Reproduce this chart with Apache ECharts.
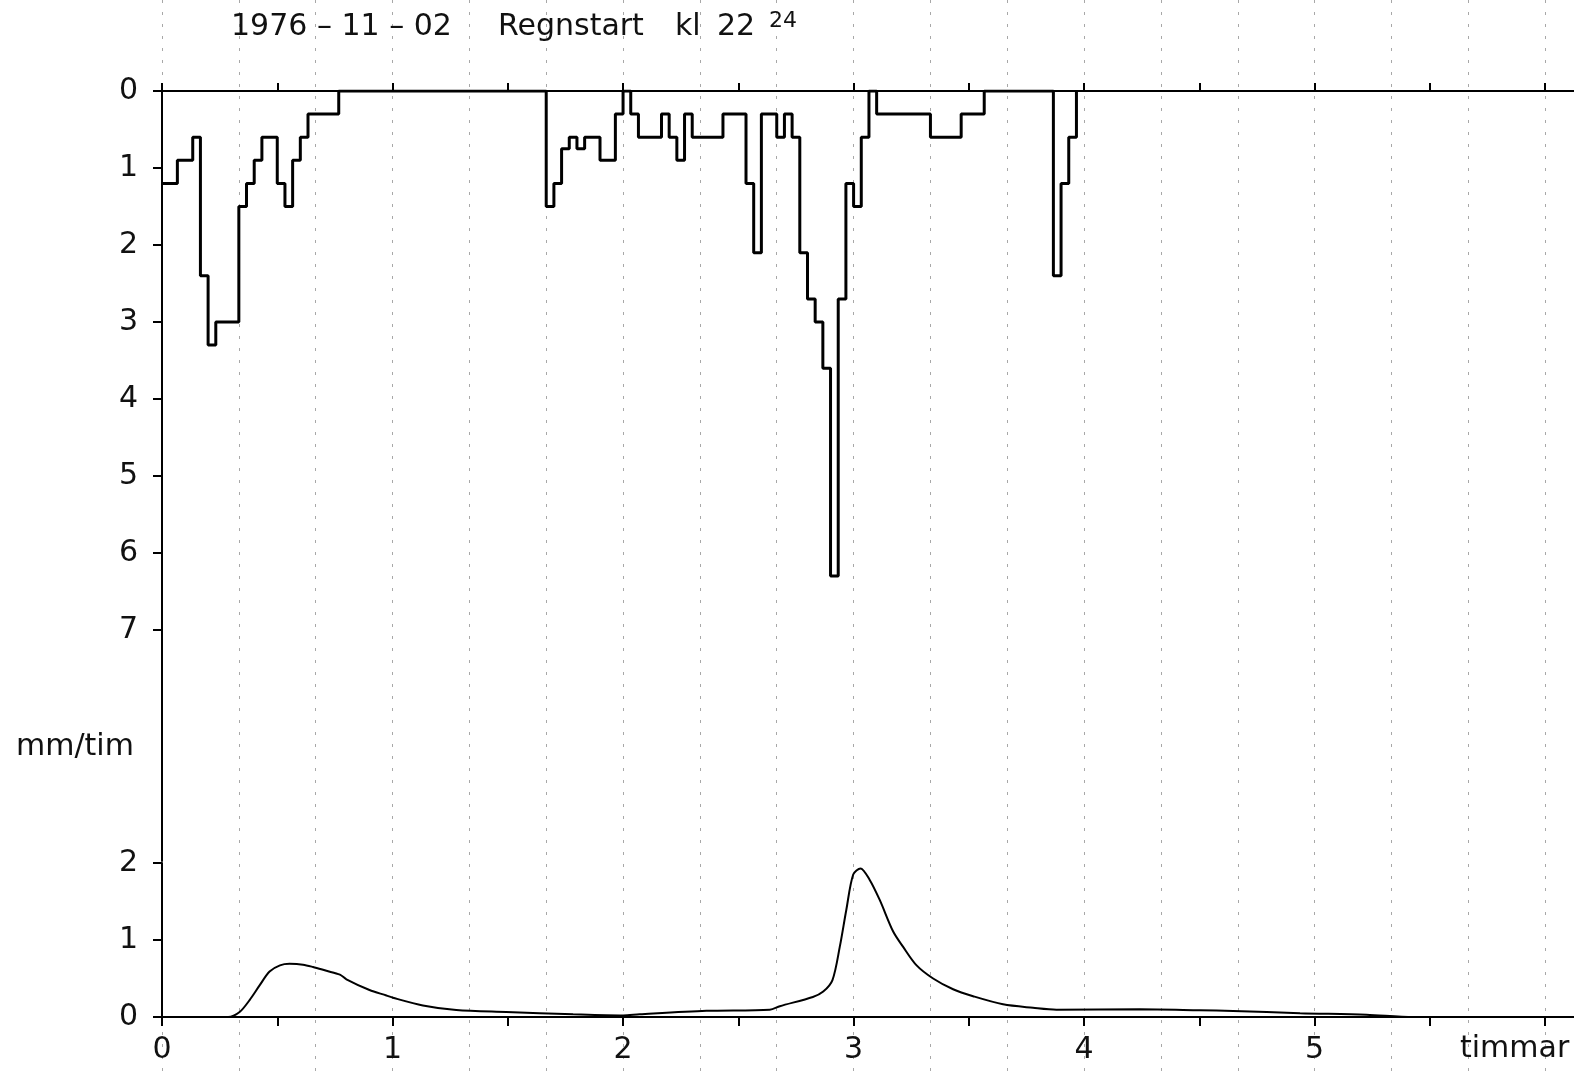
<!DOCTYPE html>
<html>
<head>
<meta charset="utf-8">
<title>Regn och avrinning 1976-11-02</title>
<script src="https://cdn.jsdelivr.net/npm/echarts@6/dist/echarts.min.js"></script>
<style>
  html, body { margin: 0; padding: 0; background: #fff; }
  #chart { width: 1574px; height: 1071px; }
</style>
</head>
<body>
<div id="chart"></div>
<script>
// Rain intensity (mm/tim) as steps: each value holds from its start minute to the next one.
const rainStartMin = [
  0, 4, 8, 10, 12, 14, 20, 22, 24, 26, 30, 32, 34, 36, 38, 46,
  100, 102, 104, 106, 108, 110, 114, 118, 120, 122, 124, 130, 132, 134, 136, 138,
  146, 152, 154, 156, 160, 162, 164, 166, 168, 170, 172, 174, 176, 178, 180, 182,
  184, 186, 200, 208, 214,
  232, 234, 236, 238
];
const rainRate = [
  1.2, 0.9, 0.6, 2.4, 3.3, 3.0, 1.5, 1.2, 0.9, 0.6, 1.2, 1.5, 0.9, 0.6, 0.3, 0,
  1.5, 1.2, 0.75, 0.6, 0.75, 0.6, 0.9, 0.3, 0, 0.3, 0.6, 0.3, 0.6, 0.9, 0.3, 0.6,
  0.3, 1.2, 2.1, 0.3, 0.6, 0.3, 0.6, 2.1, 2.7, 3.0, 3.6, 6.3, 2.7, 1.2, 1.5, 0.6,
  0, 0.3, 0.6, 0.3, 0,
  2.4, 1.2, 0.6, 0
];

// Runoff (mm/tim) sampled along the curve.
const flowMin = [
  0, 17.2, 20.2, 22.8, 25.4, 28, 30.7, 33.2, 36.7, 39.3, 42.8, 46.3, 48, 54, 58.4, 60.1,
  67.9, 76.6, 89.6, 107, 120, 124.3, 141.7, 158.2, 160.8, 169.4, 172.1, 174.5, 176.4, 178.1,
  179.9, 181.8, 184.2, 186.8, 190.3, 192.9, 196.4, 200.7, 205.9, 211.1, 218.9, 226.7, 232.8,
  254.5, 270.1, 278.8, 296.2, 313.5, 325.6, 367.5
];
const flowRate = [
  0, 0, 0.065, 0.22, 0.41, 0.59, 0.67, 0.69, 0.68, 0.65, 0.60, 0.55, 0.49, 0.35, 0.28, 0.25,
  0.15, 0.09, 0.065, 0.035, 0.02, 0.035, 0.08, 0.095, 0.14, 0.26, 0.33, 0.48, 0.91, 1.39,
  1.85, 1.93, 1.78, 1.52, 1.11, 0.91, 0.67, 0.50, 0.36, 0.27, 0.165, 0.12, 0.095,
  0.10, 0.087, 0.078, 0.05, 0.03, 0, 0
];

// Tick labels
const rainTicks = [0, 1, 2, 3, 4, 5, 6, 7];
const flowTicks = [0, 1, 2];
const hourTicks = [0, 1, 2, 3, 4, 5];
const halfHourTicksMin = [0, 30, 60, 90, 120, 150, 180, 210, 240, 270, 300, 330, 360];

const FONT = '"DejaVu Sans", sans-serif';
const INK = '#111';
const X_MAX_MIN = 367.5;   // right end of the time axis, minutes

const rainData = rainStartMin.map((t, i) => [t, rainRate[i]]);
const flowData = flowMin.map((t, i) => [t, flowRate[i]]);

const txt = (size) => ({ fontFamily: FONT, fontSize: size, fontWeight: 'normal', color: INK });

const chart = echarts.init(document.getElementById('chart'), null, { renderer: 'canvas' });

chart.setOption({
  animation: false,
  backgroundColor: '#fff',
  title: [
    { text: '1976 – 11 – 02', left: 231, top: 12, padding: 0, textStyle: txt(30) },
    { text: 'Regnstart', left: 498, top: 12, padding: 0, textStyle: txt(30) },
    { text: 'kl', left: 675, top: 12, padding: 0, textStyle: txt(30) },
    { text: '22', left: 717, top: 12, padding: 0, textStyle: txt(30) },
    { text: '24', left: 769, top: 10, padding: 0, textStyle: txt(22) },
    { text: 'mm/tim', left: 16, top: 732, padding: 0, textStyle: txt(30) },
    { text: 'timmar', left: 1460, top: 1034, padding: 0, textStyle: txt(30) }
  ],
  grid: [
    // rain panel (inverted), reaches down to the runoff panel
    { left: 162, right: 0, top: 91, height: 770, containLabel: false },
    // runoff panel
    { left: 162, right: 0, top: 863, height: 154, containLabel: false },
    // full-height panel carrying the 20-minute guide lines
    { left: 162, right: 0, top: 0, bottom: 0, containLabel: false }
  ],
  xAxis: [
    {
      gridIndex: 0, type: 'value', position: 'top', min: 0, max: X_MAX_MIN, interval: 30,
      axisLine: { show: true, onZero: false, lineStyle: { color: '#000', width: 2 } },
      axisTick: { show: true, inside: false, length: 8, customValues: halfHourTicksMin,
                  lineStyle: { color: '#000', width: 2 } },
      axisLabel: { show: false },
      splitLine: { show: false }
    },
    {
      gridIndex: 1, type: 'value', position: 'bottom', min: 0, max: X_MAX_MIN, interval: 30,
      axisLine: { show: true, onZero: false, lineStyle: { color: '#000', width: 2 } },
      axisTick: { show: true, inside: false, length: 9, customValues: halfHourTicksMin,
                  lineStyle: { color: '#000', width: 2 } },
      axisLabel: {
        show: true, margin: 18,
        customValues: hourTicks.map(h => h * 60),
        formatter: v => String(Math.round(v / 60)),
        ...txt(30)
      },
      splitLine: { show: false }
    },
    {
      gridIndex: 2, type: 'value', min: 0, max: X_MAX_MIN, interval: 20,
      axisLine: { show: false }, axisTick: { show: false }, axisLabel: { show: false },
      splitLine: { show: true, lineStyle: { color: '#a8a8a8', width: 1, type: [3, 9] } }
    }
  ],
  yAxis: [
    {
      gridIndex: 0, type: 'value', inverse: true, min: 0, max: 10,
      axisLine: { show: true, onZero: false, lineStyle: { color: '#000', width: 2 } },
      axisTick: { show: true, inside: false, length: 9, customValues: rainTicks,
                  lineStyle: { color: '#000', width: 2 } },
      axisLabel: { show: true, margin: 24, customValues: rainTicks, ...txt(30) },
      splitLine: { show: false }
    },
    {
      gridIndex: 1, type: 'value', min: 0, max: 2,
      axisLine: { show: true, onZero: false, lineStyle: { color: '#000', width: 2 } },
      axisTick: { show: true, inside: false, length: 9, customValues: flowTicks,
                  lineStyle: { color: '#000', width: 2 } },
      axisLabel: { show: true, margin: 24, customValues: flowTicks, ...txt(30) },
      splitLine: { show: false }
    },
    {
      gridIndex: 2, type: 'value', min: 0, max: 1, show: false
    }
  ],
  series: [
    {
      name: 'Regn', type: 'line', xAxisIndex: 0, yAxisIndex: 0,
      step: 'end', data: rainData, symbol: 'none',
      lineStyle: { color: '#000', width: 3 }, z: 3
    },
    {
      name: 'Avrinning', type: 'line', xAxisIndex: 1, yAxisIndex: 1,
      data: flowData, symbol: 'none', smooth: 0.3,
      lineStyle: { color: '#000', width: 2 }, z: 3
    }
  ]
});
</script>
</body>
</html>
